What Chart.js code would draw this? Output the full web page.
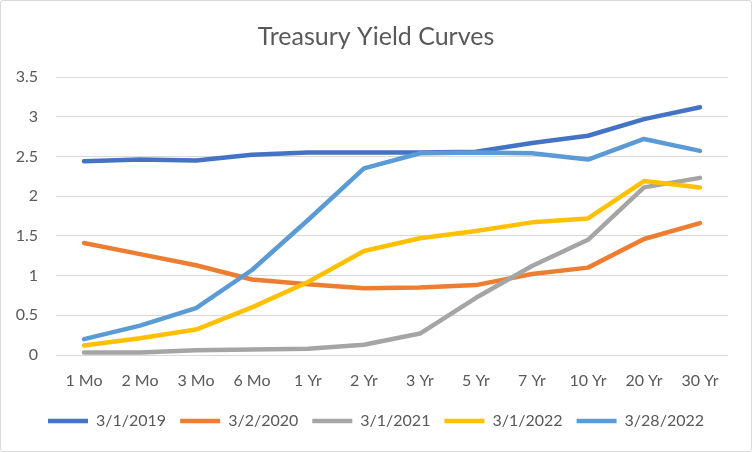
<!DOCTYPE html>
<html>
<head>
<meta charset="utf-8">
<script src="https://cdn.jsdelivr.net/npm/chart.js@4"></script>
<style>
  body { margin: 0; background: #fff; }
  #box { width: 750px; height: 450px; border: 1px solid #d9d9d9; border-radius: 3px; }
</style>
</head>
<body>
<div id="box"><canvas id="yieldChart" width="750" height="450"></canvas></div>
<script>
// maturities on the x axis
var maturities = ['1 Mo', '2 Mo', '3 Mo', '6 Mo', '1 Yr', '2 Yr', '3 Yr', '5 Yr', '7 Yr', '10 Yr', '20 Yr', '30 Yr'];
// yields
var y20190301 = [2.44, 2.46, 2.45, 2.52, 2.55, 2.55, 2.55, 2.56, 2.67, 2.76, 2.97, 3.12];
var y20200302 = [1.41, 1.27, 1.13, 0.95, 0.89, 0.84, 0.85, 0.88, 1.02, 1.10, 1.46, 1.66];
var y20210301 = [0.03, 0.03, 0.06, 0.07, 0.08, 0.13, 0.27, 0.72, 1.12, 1.45, 2.11, 2.23];
var y20220301 = [0.12, 0.21, 0.32, 0.60, 0.92, 1.31, 1.47, 1.56, 1.67, 1.72, 2.19, 2.11];
var y20220328 = [0.20, 0.37, 0.59, 1.07, 1.70, 2.35, 2.54, 2.55, 2.54, 2.46, 2.72, 2.57];
var seriesNames = ['3/1/2019', '3/2/2020', '3/1/2021', '3/1/2022', '3/28/2022'];
var seriesColors = ['#4472C4', '#ED7D31', '#A5A5A5', '#FFC000', '#5B9BD5'];

var textColor = '#595959';
var allSeries = [y20190301, y20200302, y20210301, y20220301, y20220328];

function makeDataset(i) {
    return {
        label: seriesNames[i],
        data: allSeries[i],
        borderColor: seriesColors[i],
        backgroundColor: seriesColors[i],
        borderWidth: 4.5,
        borderCapStyle: 'round',
        borderJoinStyle: 'round',
        pointRadius: 0,
        tension: 0,
        order: allSeries.length - i   // later series drawn on top, like Excel
    };
}

var datasets = [];
for (var i = 0; i < allSeries.length; i++) {
    datasets.push(makeDataset(i));
}

var section = document.getElementById('yieldChart');
var myChart = new Chart(section, {
    type: 'line',
    data: {
        labels: maturities,
        datasets: datasets
    },
    options: {
        responsive: false,
        animation: false,
        devicePixelRatio: 1,
        layout: { padding: { left: 0, right: 0, top: 0, bottom: 12 } },
        plugins: {
            tooltip: { enabled: false },
            title: {
                display: true,
                text: 'Treasury Yield Curves',
                color: textColor,
                font: { family: 'Lato', size: 25, weight: 'normal' },
                padding: { top: 21, bottom: 25 }
            },
            legend: {
                position: 'bottom',
                labels: {
                    color: textColor,
                    font: { family: 'Lato', size: 16 },
                    usePointStyle: true,
                    pointStyle: 'line',
                    pointStyleWidth: 40,
                    padding: 14,
                    sort: function (a, b) { return a.datasetIndex - b.datasetIndex; }
                }
            }
        },
        scales: {
            x: {
                offset: true,
                grid: { display: false },
                border: { display: false },
                ticks: {
                    color: textColor,
                    font: { family: 'Lato', size: 16 },
                    padding: 8,
                    maxRotation: 0
                },
                afterFit: function (s) { s.height = 44; }
            },
            y: {
                min: 0,
                max: 3.5,
                border: { display: false },
                grid: { color: '#d9d9d9', lineWidth: 1, drawTicks: false },
                ticks: {
                    stepSize: 0.5,
                    color: textColor,
                    font: { family: 'Lato', size: 16 },
                    padding: 18,
                    callback: function (v) { return String(v); }
                },
                afterFit: function (s) { s.width = 55; }
            },
            // empty right-hand margin so title and legend stay centred on the canvas
            yRight: {
                position: 'right',
                min: 0,
                max: 3.5,
                grid: { display: false },
                border: { display: false },
                ticks: { display: false },
                afterFit: function (s) { s.width = 23; }
            }
        }
    }
});
</script>
</body>
</html>
